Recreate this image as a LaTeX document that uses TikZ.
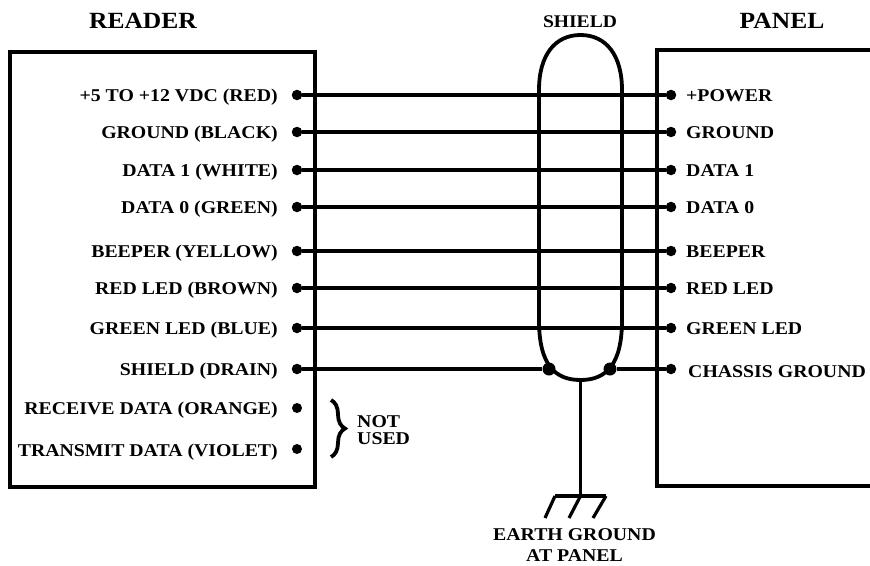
\documentclass[tikz,border=0pt]{standalone}
\usepackage{fontspec}
\setmainfont[FakeStretch=1.1]{Liberation Serif}
\usetikzlibrary{decorations.pathreplacing}
\tikzstyle{terminal} = [
	circle,
	fill=black,
	inner sep=0pt,
	minimum size=10.5pt
]
\tikzstyle{joint} = [terminal, minimum size=13pt]
\tikzstyle{pinlabel} = [
	inner sep=0pt,
	font=\bfseries\fontsize{18}{20}\selectfont
]
\tikzstyle{title} = [inner sep=0pt, font=\bfseries\fontsize{23.2}{26}\selectfont]
\tikzstyle{wire} = [line width=3.8pt]
\tikzstyle{box} = [line width=3.4pt, line join=miter]

\begin{document}
\begin{tikzpicture}[x=1pt, y=-1pt]
    \useasboundingbox (0, 0) rectangle (870, 565);
    % boxes
    \draw [box] (10, 52) rectangle (315, 487);
    \draw [box] (870, 50) -- (657, 50) -- (657, 486) -- (870, 486);
    \node [title] (reader) at (143, 21) {READER};
    \node [title] (panel) at (782, 21) {PANEL};
    \node [title, font=\bfseries\fontsize{17.8}{20}\selectfont] (shield) at (580, 22) {SHIELD};
    % wires
    \foreach \name/\y/\left/\right in {
      a/95/+5 TO +12 VDC (RED)/+POWER,
      b/132/GROUND (BLACK)/GROUND,
      c/170/DATA 1 (WHITE)/DATA 1,
      d/207/DATA 0 (GREEN)/DATA 0,
      e/251/BEEPER (YELLOW)/BEEPER,
      f/288/RED LED (BROWN)/RED LED,
      g/328/GREEN LED (BLUE)/GREEN LED}
    {
      \node [terminal] (\name L) at (297, \y) {};
      \node [terminal] (\name R) at (671, \y) {};
      \node [pinlabel, anchor=base east] (label \name L) at (278, \y+6) {\left};
      \node [pinlabel, anchor=base west] (label \name R) at (686, \y+6) {\right};
      \draw [wire] (\name L) -- (\name R);
    }
    % drain and chassis
    \node [terminal] (hL) at (297, 369) {};
    \node [terminal] (hR) at (671, 369) {};
    \node [joint] (drain) at (549, 369) {};
    \node [joint] (chassis) at (610, 369) {};
    \node [pinlabel, anchor=base east] (label hL) at (278, 375) {SHIELD (DRAIN)};
    \node [pinlabel, anchor=base west] (label hR) at (688, 377) {CHASSIS GROUND};
    \draw [wire] (hL) -- (drain);
    \draw [wire] (chassis) -- (hR);
    % shield loop
    \coordinate (bottom) at (580.5, 380);
    \draw [wire] (bottom) .. controls (555, 380) and (539, 365) .. (539, 320)
      -- (539, 90) .. controls (539, 55) and (555, 35) .. (580.5, 35)
      .. controls (606, 35) and (622, 55) .. (622, 90)
      -- (622, 320) .. controls (622, 365) and (606, 380) .. (bottom);
    % earth
    \coordinate (earth) at (580.5, 496);
    \coordinate (earth L) at (555, 496);
    \coordinate (earth R) at (606, 496);
    \draw [line width=3.2pt] (bottom) -- (earth);
    \draw [line width=3.2pt] (earth L) -- (earth R);
    \draw [line width=3.2pt] (earth L) -- (545, 518);
    \draw [line width=3.2pt] (earth) -- (569, 518);
    \draw [line width=3.2pt] (earth R) -- (593, 518);
    \node [pinlabel, align=center, font=\bfseries\fontsize{18}{21}\selectfont] (earth label) at (574.5, 545) {EARTH GROUND\\AT PANEL};
    % not used
    \node [terminal, minimum size=10pt] (iL) at (297, 408) {};
    \node [terminal, minimum size=10pt] (jL) at (297, 449) {};
    \node [pinlabel, anchor=base east] (label iL) at (278, 414) {RECEIVE DATA (ORANGE)};
    \node [pinlabel, anchor=base east] (label jL) at (278, 456) {TRANSMIT DATA (VIOLET)};
    \coordinate (brace top) at (331, 400);
    \coordinate (brace bottom) at (331, 457);
    \draw [line width=3.8pt, decorate, decoration={brace, amplitude=14pt, aspect=0.5}] (brace top) -- (brace bottom);
    \node [pinlabel, align=left, anchor=west, font=\bfseries\fontsize{18}{16.7}\selectfont] (not used) at (357, 430) {NOT\\USED};
  \end{tikzpicture}
\end{document}
